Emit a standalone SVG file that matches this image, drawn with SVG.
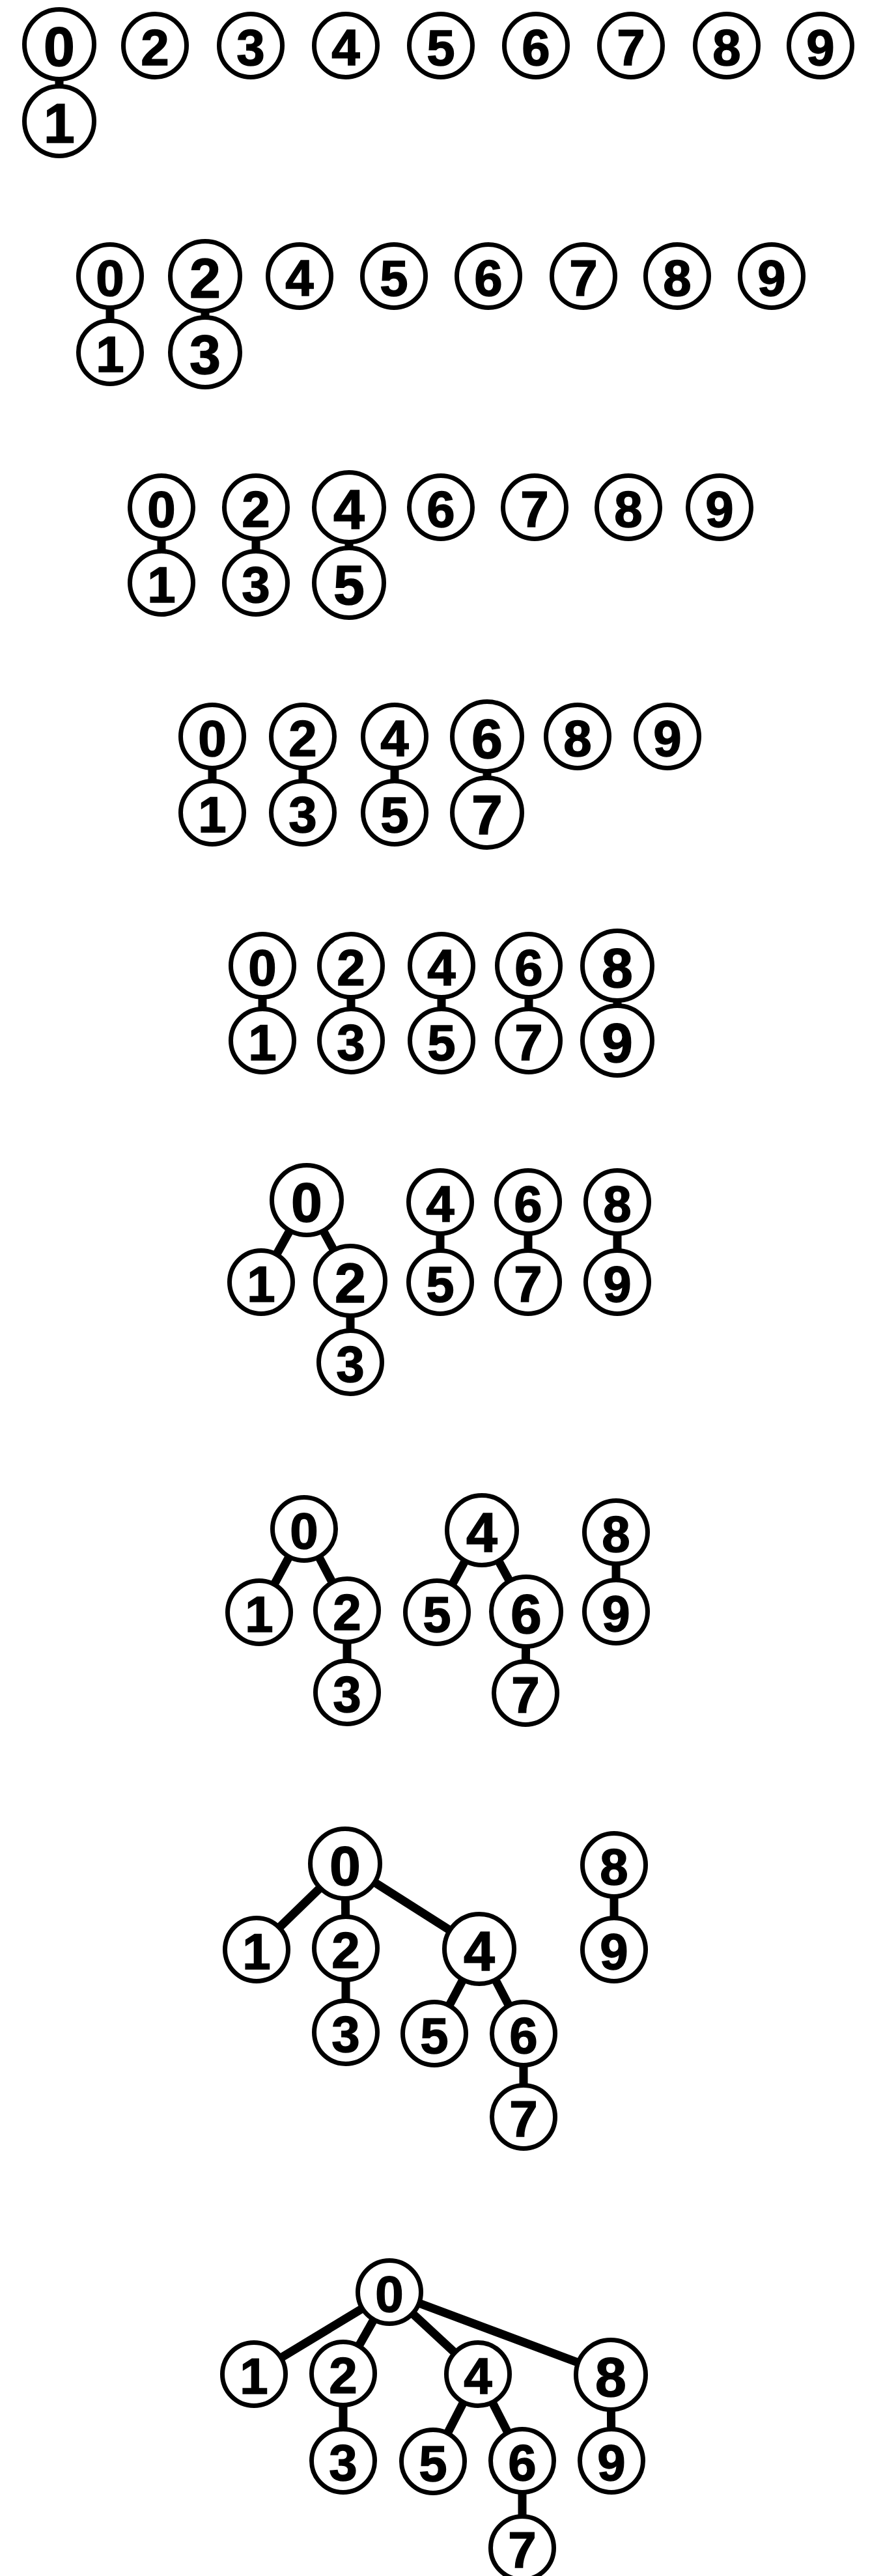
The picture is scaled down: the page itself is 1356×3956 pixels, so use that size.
<svg xmlns="http://www.w3.org/2000/svg" width="1356" height="3956" viewBox="0 0 1356 3956">
<style>
.n circle{fill:#fff;stroke:#000;stroke-width:7;r:48.5px}
.n.big circle{r:53.5px}
.n text{font-family:"Liberation Sans",Arial,sans-serif;font-weight:bold;font-size:78px;text-anchor:middle;fill:#000;stroke:#000;stroke-width:1.5}
.n.big text{font-size:86px}
#edges line{stroke:#000;stroke-width:13}
</style>
<rect width="1356" height="3956" fill="#fff"/>
<g id="edges">
<line x1="91" y1="68" x2="91" y2="186"/>
<line x1="169" y1="424" x2="169" y2="541"/>
<line x1="315" y1="424" x2="315" y2="541"/>
<line x1="248" y1="779" x2="248" y2="895"/>
<line x1="393" y1="779" x2="393" y2="895"/>
<line x1="536" y1="779" x2="536" y2="895"/>
<line x1="326" y1="1131" x2="326" y2="1248"/>
<line x1="465" y1="1131" x2="465" y2="1248"/>
<line x1="606" y1="1131" x2="606" y2="1248"/>
<line x1="748" y1="1131" x2="748" y2="1248"/>
<line x1="403" y1="1483" x2="403" y2="1598"/>
<line x1="539" y1="1483" x2="539" y2="1598"/>
<line x1="678" y1="1483" x2="678" y2="1598"/>
<line x1="812" y1="1483" x2="812" y2="1598"/>
<line x1="948" y1="1483" x2="948" y2="1598"/>
<line x1="471" y1="1843" x2="401" y2="1969"/>
<line x1="471" y1="1843" x2="538" y2="1967"/>
<line x1="538" y1="1967" x2="538" y2="2092"/>
<line x1="676" y1="1846" x2="676" y2="1969"/>
<line x1="811" y1="1846" x2="811" y2="1969"/>
<line x1="948" y1="1846" x2="948" y2="1969"/>
<line x1="467" y1="2348" x2="398" y2="2476"/>
<line x1="467" y1="2348" x2="533" y2="2473"/>
<line x1="533" y1="2473" x2="533" y2="2599"/>
<line x1="740" y1="2350" x2="671" y2="2476"/>
<line x1="740" y1="2350" x2="808" y2="2475"/>
<line x1="808" y1="2475" x2="807" y2="2600"/>
<line x1="946" y1="2353" x2="946" y2="2475"/>
<line x1="530" y1="2862" x2="394" y2="2994"/>
<line x1="530" y1="2862" x2="531" y2="2992"/>
<line x1="530" y1="2862" x2="736" y2="2993"/>
<line x1="531" y1="2992" x2="531" y2="3121"/>
<line x1="736" y1="2993" x2="667" y2="3123"/>
<line x1="736" y1="2993" x2="804" y2="3123"/>
<line x1="804" y1="3123" x2="804" y2="3251"/>
<line x1="943" y1="2864" x2="943" y2="2994"/>
<line x1="598" y1="3520" x2="390" y2="3646"/>
<line x1="598" y1="3520" x2="527" y2="3645"/>
<line x1="598" y1="3520" x2="734" y2="3646"/>
<line x1="598" y1="3520" x2="938" y2="3647"/>
<line x1="527" y1="3645" x2="527" y2="3779"/>
<line x1="734" y1="3646" x2="665" y2="3780"/>
<line x1="734" y1="3646" x2="802" y2="3779"/>
<line x1="802" y1="3779" x2="802" y2="3913"/>
<line x1="938" y1="3647" x2="939" y2="3779"/>
</g>
<g id="r1">
<g id="r1-n0" class="n big"><circle cx="91" cy="68"/><text x="91" y="101">0</text></g>
<g id="r1-n1" class="n big"><circle cx="91" cy="186"/><text x="91" y="219">1</text></g>
<g id="r1-n2" class="n"><circle cx="238" cy="70"/><text x="238" y="100">2</text></g>
<g id="r1-n3" class="n"><circle cx="385" cy="70"/><text x="385" y="100">3</text></g>
<g id="r1-n4" class="n"><circle cx="531" cy="70"/><text x="531" y="100">4</text></g>
<g id="r1-n5" class="n"><circle cx="677" cy="70"/><text x="677" y="100">5</text></g>
<g id="r1-n6" class="n"><circle cx="823" cy="70"/><text x="823" y="100">6</text></g>
<g id="r1-n7" class="n"><circle cx="969" cy="70"/><text x="969" y="100">7</text></g>
<g id="r1-n8" class="n"><circle cx="1116" cy="70"/><text x="1116" y="100">8</text></g>
<g id="r1-n9" class="n"><circle cx="1260" cy="70"/><text x="1260" y="100">9</text></g>
</g>
<g id="r2">
<g id="r2-n0" class="n"><circle cx="169" cy="424"/><text x="169" y="454">0</text></g>
<g id="r2-n1" class="n"><circle cx="169" cy="541"/><text x="169" y="571">1</text></g>
<g id="r2-n2" class="n big"><circle cx="315" cy="424"/><text x="315" y="457">2</text></g>
<g id="r2-n3" class="n big"><circle cx="315" cy="541"/><text x="315" y="574">3</text></g>
<g id="r2-n4" class="n"><circle cx="460" cy="424"/><text x="460" y="454">4</text></g>
<g id="r2-n5" class="n"><circle cx="605" cy="424"/><text x="605" y="454">5</text></g>
<g id="r2-n6" class="n"><circle cx="750" cy="424"/><text x="750" y="454">6</text></g>
<g id="r2-n7" class="n"><circle cx="896" cy="424"/><text x="896" y="454">7</text></g>
<g id="r2-n8" class="n"><circle cx="1040" cy="424"/><text x="1040" y="454">8</text></g>
<g id="r2-n9" class="n"><circle cx="1185" cy="424"/><text x="1185" y="454">9</text></g>
</g>
<g id="r3">
<g id="r3-n0" class="n"><circle cx="248" cy="779"/><text x="248" y="809">0</text></g>
<g id="r3-n1" class="n"><circle cx="248" cy="895"/><text x="248" y="925">1</text></g>
<g id="r3-n2" class="n"><circle cx="393" cy="779"/><text x="393" y="809">2</text></g>
<g id="r3-n3" class="n"><circle cx="393" cy="895"/><text x="393" y="925">3</text></g>
<g id="r3-n4" class="n big"><circle cx="536" cy="779"/><text x="536" y="812">4</text></g>
<g id="r3-n5" class="n big"><circle cx="536" cy="895"/><text x="536" y="928">5</text></g>
<g id="r3-n6" class="n"><circle cx="677" cy="779"/><text x="677" y="809">6</text></g>
<g id="r3-n7" class="n"><circle cx="821" cy="779"/><text x="821" y="809">7</text></g>
<g id="r3-n8" class="n"><circle cx="965" cy="779"/><text x="965" y="809">8</text></g>
<g id="r3-n9" class="n"><circle cx="1105" cy="779"/><text x="1105" y="809">9</text></g>
</g>
<g id="r4">
<g id="r4-n0" class="n"><circle cx="326" cy="1131"/><text x="326" y="1161">0</text></g>
<g id="r4-n1" class="n"><circle cx="326" cy="1248"/><text x="326" y="1278">1</text></g>
<g id="r4-n2" class="n"><circle cx="465" cy="1131"/><text x="465" y="1161">2</text></g>
<g id="r4-n3" class="n"><circle cx="465" cy="1248"/><text x="465" y="1278">3</text></g>
<g id="r4-n4" class="n"><circle cx="606" cy="1131"/><text x="606" y="1161">4</text></g>
<g id="r4-n5" class="n"><circle cx="606" cy="1248"/><text x="606" y="1278">5</text></g>
<g id="r4-n6" class="n big"><circle cx="748" cy="1131"/><text x="748" y="1164">6</text></g>
<g id="r4-n7" class="n big"><circle cx="748" cy="1248"/><text x="748" y="1281">7</text></g>
<g id="r4-n8" class="n"><circle cx="887" cy="1131"/><text x="887" y="1161">8</text></g>
<g id="r4-n9" class="n"><circle cx="1025" cy="1131"/><text x="1025" y="1161">9</text></g>
</g>
<g id="r5">
<g id="r5-n0" class="n"><circle cx="403" cy="1483"/><text x="403" y="1513">0</text></g>
<g id="r5-n1" class="n"><circle cx="403" cy="1598"/><text x="403" y="1628">1</text></g>
<g id="r5-n2" class="n"><circle cx="539" cy="1483"/><text x="539" y="1513">2</text></g>
<g id="r5-n3" class="n"><circle cx="539" cy="1598"/><text x="539" y="1628">3</text></g>
<g id="r5-n4" class="n"><circle cx="678" cy="1483"/><text x="678" y="1513">4</text></g>
<g id="r5-n5" class="n"><circle cx="678" cy="1598"/><text x="678" y="1628">5</text></g>
<g id="r5-n6" class="n"><circle cx="812" cy="1483"/><text x="812" y="1513">6</text></g>
<g id="r5-n7" class="n"><circle cx="812" cy="1598"/><text x="812" y="1628">7</text></g>
<g id="r5-n8" class="n big"><circle cx="948" cy="1483"/><text x="948" y="1516">8</text></g>
<g id="r5-n9" class="n big"><circle cx="948" cy="1598"/><text x="948" y="1631">9</text></g>
</g>
<g id="r6">
<g id="r6-n0" class="n big"><circle cx="471" cy="1843"/><text x="471" y="1876">0</text></g>
<g id="r6-n1" class="n"><circle cx="401" cy="1969"/><text x="401" y="1999">1</text></g>
<g id="r6-n2" class="n big"><circle cx="538" cy="1967"/><text x="538" y="2000">2</text></g>
<g id="r6-n3" class="n"><circle cx="538" cy="2092"/><text x="538" y="2122">3</text></g>
<g id="r6-n4" class="n"><circle cx="676" cy="1846"/><text x="676" y="1876">4</text></g>
<g id="r6-n5" class="n"><circle cx="676" cy="1969"/><text x="676" y="1999">5</text></g>
<g id="r6-n6" class="n"><circle cx="811" cy="1846"/><text x="811" y="1876">6</text></g>
<g id="r6-n7" class="n"><circle cx="811" cy="1969"/><text x="811" y="1999">7</text></g>
<g id="r6-n8" class="n"><circle cx="948" cy="1846"/><text x="948" y="1876">8</text></g>
<g id="r6-n9" class="n"><circle cx="948" cy="1969"/><text x="948" y="1999">9</text></g>
</g>
<g id="r7">
<g id="r7-n0" class="n"><circle cx="467" cy="2348"/><text x="467" y="2378">0</text></g>
<g id="r7-n1" class="n"><circle cx="398" cy="2476"/><text x="398" y="2506">1</text></g>
<g id="r7-n2" class="n"><circle cx="533" cy="2473"/><text x="533" y="2503">2</text></g>
<g id="r7-n3" class="n"><circle cx="533" cy="2599"/><text x="533" y="2629">3</text></g>
<g id="r7-n4" class="n big"><circle cx="740" cy="2350"/><text x="740" y="2383">4</text></g>
<g id="r7-n5" class="n"><circle cx="671" cy="2476"/><text x="671" y="2506">5</text></g>
<g id="r7-n6" class="n big"><circle cx="808" cy="2475"/><text x="808" y="2508">6</text></g>
<g id="r7-n7" class="n"><circle cx="807" cy="2600"/><text x="807" y="2630">7</text></g>
<g id="r7-n8" class="n"><circle cx="946" cy="2353"/><text x="946" y="2383">8</text></g>
<g id="r7-n9" class="n"><circle cx="946" cy="2475"/><text x="946" y="2505">9</text></g>
</g>
<g id="r8">
<g id="r8-n0" class="n big"><circle cx="530" cy="2862"/><text x="530" y="2895">0</text></g>
<g id="r8-n1" class="n"><circle cx="394" cy="2994"/><text x="394" y="3024">1</text></g>
<g id="r8-n2" class="n"><circle cx="531" cy="2992"/><text x="531" y="3022">2</text></g>
<g id="r8-n3" class="n"><circle cx="531" cy="3121"/><text x="531" y="3151">3</text></g>
<g id="r8-n4" class="n big"><circle cx="736" cy="2993"/><text x="736" y="3026">4</text></g>
<g id="r8-n5" class="n"><circle cx="667" cy="3123"/><text x="667" y="3153">5</text></g>
<g id="r8-n6" class="n"><circle cx="804" cy="3123"/><text x="804" y="3153">6</text></g>
<g id="r8-n7" class="n"><circle cx="804" cy="3251"/><text x="804" y="3281">7</text></g>
<g id="r8-n8" class="n"><circle cx="943" cy="2864"/><text x="943" y="2894">8</text></g>
<g id="r8-n9" class="n"><circle cx="943" cy="2994"/><text x="943" y="3024">9</text></g>
</g>
<g id="r9">
<g id="r9-n0" class="n"><circle cx="598" cy="3520"/><text x="598" y="3550">0</text></g>
<g id="r9-n1" class="n"><circle cx="390" cy="3646"/><text x="390" y="3676">1</text></g>
<g id="r9-n2" class="n"><circle cx="527" cy="3645"/><text x="527" y="3675">2</text></g>
<g id="r9-n3" class="n"><circle cx="527" cy="3779"/><text x="527" y="3809">3</text></g>
<g id="r9-n4" class="n"><circle cx="734" cy="3646"/><text x="734" y="3676">4</text></g>
<g id="r9-n5" class="n"><circle cx="665" cy="3780"/><text x="665" y="3810">5</text></g>
<g id="r9-n6" class="n"><circle cx="802" cy="3779"/><text x="802" y="3809">6</text></g>
<g id="r9-n7" class="n"><circle cx="802" cy="3913"/><text x="802" y="3943">7</text></g>
<g id="r9-n8" class="n big"><circle cx="938" cy="3647"/><text x="938" y="3680">8</text></g>
<g id="r9-n9" class="n"><circle cx="939" cy="3779"/><text x="939" y="3809">9</text></g>
</g>
</svg>
